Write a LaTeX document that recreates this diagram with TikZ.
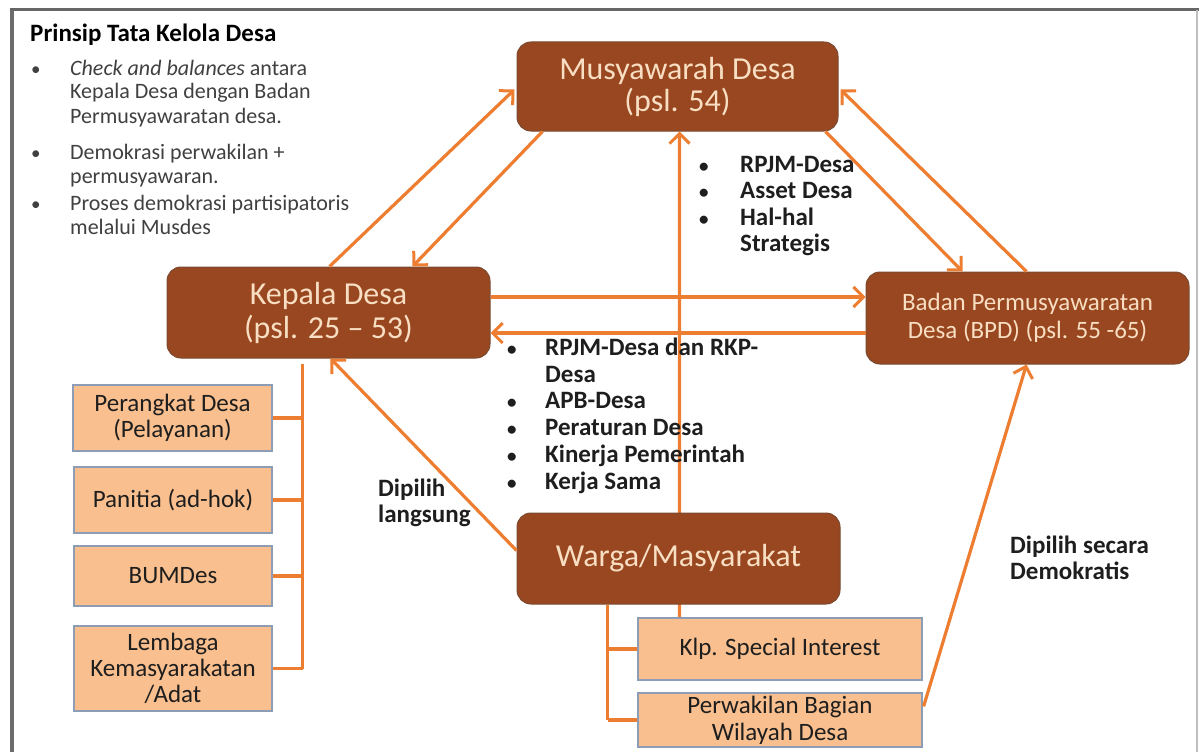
\documentclass[tikz,border=0pt]{standalone}
\usepackage{fontspec}
\setmainfont{Carlito}
\usetikzlibrary{arrows.meta,calc}
\pgfdeclarelayer{background}
\pgfsetlayers{background,main}
\definecolor{brownc}{HTML}{994720}
\definecolor{brownd}{HTML}{7A4A30}
\definecolor{cream}{HTML}{F8DEC2}
\definecolor{peach}{HTML}{F9BF8E}
\definecolor{peachd}{HTML}{8C9DB5}
\definecolor{orng}{HTML}{ED7D31}
\definecolor{txtd}{HTML}{1E1E1E}
\definecolor{txtg}{HTML}{404040}
\newcommand{\bul}[1]{\makebox[#1][l]{\fontsize{19}{19}\selectfont •}}
\begin{document}
\begin{tikzpicture}[x=1pt,y=-1pt,
  bigbox/.style={rounded corners=14pt, fill=brownc, draw=brownd, line width=1pt, text=cream, align=center, inner sep=0pt},
  smallbox/.style={fill=peach, draw=peachd, line width=1.2pt, text=txtd, align=center, inner sep=0pt, font=\fontsize{25}{26}\selectfont},
  arr/.style={draw=orng, line width=3.2pt, -{Straight Barb[length=10pt,width=20pt,line width=3pt]}},
  ln/.style={draw=orng, line width=3.2pt},
  lbl/.style={anchor=base west, inner sep=0pt, text=txtd, font=\fontsize{25}{27}\bfseries\selectfont},
  lst/.style={anchor=base west, inner sep=0pt, text=txtg, font=\fontsize{22}{24}\selectfont}
]
\useasboundingbox (0,0) rectangle (1199,752);
% frame
\draw[draw=gray!85!black, line width=4pt] (12,10) -- (12,752);
\draw[draw=gray!80!black, line width=3pt] (10,10) -- (1199,10);
\draw[draw=gray!50, line width=1.5pt] (1197,10) -- (1197,752);

% main boxes
\node[bigbox, minimum width=321pt, minimum height=89pt, font=\fontsize{32}{32}\selectfont] (musy) at (677.5,86.5) {Musyawarah Desa\\(psl. 54)};
\node[bigbox, minimum width=323pt, minimum height=91pt, font=\fontsize{32}{34}\selectfont] (kep) at (328.5,312.5) {Kepala Desa\\(psl. 25 -- 53)};
\node[bigbox, minimum width=323pt, minimum height=92pt, font=\fontsize{25}{28}\selectfont] (bpd) at (1027.5,318) {Badan Permusyawaratan\\Desa (BPD) (psl. 55 -65)};
\node[bigbox, minimum width=323pt, minimum height=91pt, font=\fontsize{32}{32}\selectfont] (warga) at (678.5,558.5) {Warga/Masyarakat};

% small boxes
\node[smallbox, minimum width=199pt, minimum height=66pt] (per) at (172.5,418) {Perangkat Desa\\(Pelayanan)};
\node[smallbox, minimum width=198pt, minimum height=66pt] (pan) at (173,500) {Panitia (ad-hok)};
\node[smallbox, minimum width=198pt, minimum height=60pt] (bum) at (173,576) {BUMDes};
\node[smallbox, minimum width=198pt, minimum height=85pt] (lem) at (173,668.5) {Lembaga\\Kemasyarakatan\\/Adat};
\node[smallbox, minimum width=284pt, minimum height=62pt] (klp) at (780,649) {Klp. Special Interest};
\node[smallbox, minimum width=284pt, minimum height=54pt, font=\fontsize{25}{27}\selectfont] (perw) at (780,720) {Perwakilan Bagian\\Wilayah Desa};

% connectors
\begin{pgfonlayer}{background}
\draw[arr] ($(klp.north west)+(42,0)$) -- ($(musy.south west)+(163,0)$);
\end{pgfonlayer}
\draw[arr] ($(kep.north west)+(163,0)$) -- ($(musy.west)+(-2,3)$);
\draw[arr] ($(musy.south west)+(26,0)$) -- ($(kep.north west)+(246,0)$);
\coordinate (k1) at ($(kep.east)+(0,-15.5)$);
\draw[arr] (k1) -- (k1 -| bpd.west);
\coordinate (b1) at ($(bpd.west)+(0,15)$);
\draw[arr] (b1) -- (b1 -| kep.east);
\draw[arr] ($(musy.south east)+(-13,0)$) -- ($(bpd.north west)+(97,0)$);
\draw[arr] ($(bpd.north west)+(161,0)$) -- ($(musy.east)+(2,3)$);
\draw[arr] ($(warga.west)+(0,-8)$) -- ($(kep.south west)+(164,0)$);
\draw[arr] ($(perw.north east)+(1,14)$) -- ($(bpd.south west)+(161,0)$);

% brackets
\coordinate (lbt) at ($(kep.south west)+(136,5)$);
\draw[ln] (lbt) -- (lbt |- lem.east);
\draw[ln] (per.east) -- (per.east -| lbt);
\draw[ln] (pan.east) -- (pan.east -| lbt);
\draw[ln] (bum.east) -- (bum.east -| lbt);
\draw[ln] (lem.east) -- (lem.east -| lbt);
\coordinate (rbt) at ($(warga.south west)+(91,0)$);
\draw[ln] (rbt) -- (rbt |- perw.west);
\draw[ln] (klp.west) -- (klp.west -| rbt);
\draw[ln] (perw.west) -- (perw.west -| rbt);

% title and left list
\node[anchor=base west, inner sep=0pt, text=black, font=\fontsize{25}{27}\bfseries\selectfont] (title) at (30,42) {Prinsip Tata Kelola Desa};
\node[lst] (l1) at (31,75) {\bul{39pt}\textit{Check and balances} antara};
\node[lst] (l2) at (70,99) {Kepala Desa dengan Badan};
\node[lst] (l3) at (70,123) {Permusyawaratan desa.};
\node[lst] (l4) at (31,159) {\bul{39pt}Demokrasi perwakilan +};
\node[lst] (l5) at (70,183) {permusyawaran.};
\node[lst] (l6) at (31,210) {\bul{39pt}Proses demokrasi partisipatoris};
\node[lst] (l7) at (70,234) {melalui Musdes};

% upper middle labels
\node[lbl] (m1) at (699,172) {\bul{41pt}RPJM-Desa};
\node[lbl] (m2) at (699,198) {\bul{41pt}Asset Desa};
\node[lbl] (m3) at (699,225) {\bul{41pt}Hal-hal};
\node[lbl] (m4) at (740,251) {Strategis};

% lower middle labels
\node[lbl] (c1) at (507,355) {\bul{38pt}RPJM-Desa dan RKP-};
\node[lbl] (c2) at (545,382) {Desa};
\node[lbl] (c3) at (507,408) {\bul{38pt}APB-Desa};
\node[lbl] (c4) at (507,435) {\bul{38pt}Peraturan Desa};
\node[lbl] (c5) at (507,462) {\bul{38pt}Kinerja Pemerintah};
\node[lbl] (c6) at (507,489) {\bul{38pt}Kerja Sama};

% edge labels
\node[lbl] (d1) at (378,496) {Dipilih};
\node[lbl] (d2) at (378,522) {langsung};
\node[lbl] (e1) at (1010,553) {Dipilih secara};
\node[lbl] (e2) at (1010,579) {Demokratis};
\end{tikzpicture}
\end{document}
